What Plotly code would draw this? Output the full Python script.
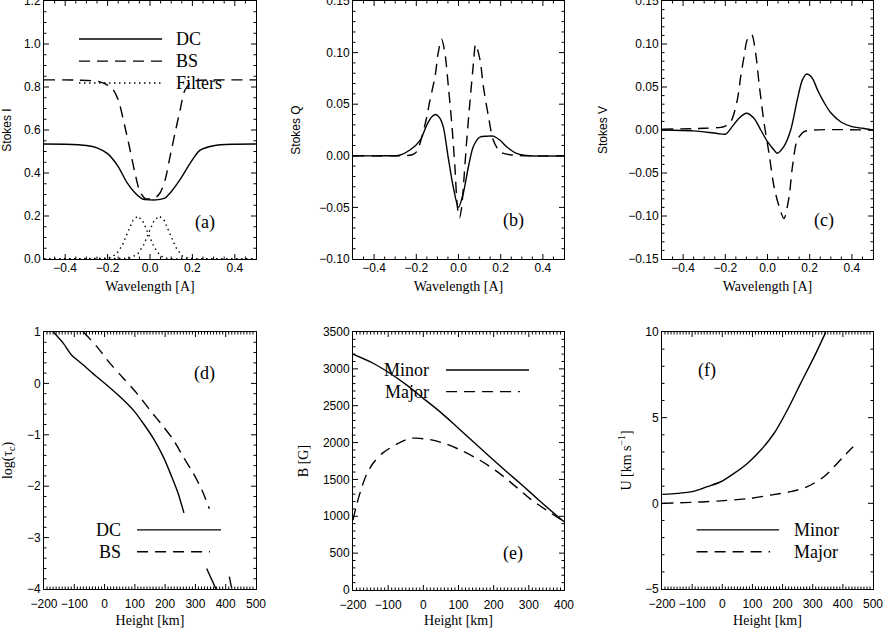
import plotly.graph_objects as go

# (a) Stokes I, wavelength in A
wl_dc_i = [-0.5, -0.4, -0.3, -0.25, -0.2, -0.15, -0.11, -0.07, -0.035, 0.0, 0.04, 0.07, 0.095, 0.14, 0.19, 0.235, 0.3, 0.4, 0.5]
dc_i = [0.535, 0.534, 0.528, 0.517, 0.49, 0.43, 0.358, 0.307, 0.279, 0.275, 0.276, 0.283, 0.307, 0.367, 0.446, 0.505, 0.527, 0.534, 0.535]
wl_bs_i = [-0.5, -0.35, -0.24, -0.18, -0.15, -0.118, -0.094, -0.071, -0.047, -0.02, 0.0, 0.025, 0.047, 0.071, 0.094, 0.118, 0.142, 0.165, 0.2, 0.25, 0.35, 0.5]
bs_i = [0.833, 0.832, 0.825, 0.795, 0.74, 0.614, 0.507, 0.40, 0.312, 0.28, 0.28, 0.285, 0.307, 0.367, 0.474, 0.586, 0.693, 0.786, 0.825, 0.832, 0.833, 0.833]
wl_filt1 = [-0.5, -0.2, -0.16, -0.13, -0.1, -0.08, -0.058, -0.035, -0.01, 0.02, 0.05, 0.08, 0.12, 0.5]
filt1 = [0, 0.003, 0.021, 0.065, 0.136, 0.18, 0.2, 0.179, 0.122, 0.054, 0.014, 0.003, 0, 0]
wl_filt2 = [-0.5, -0.1, -0.06, -0.03, 0.0, 0.02, 0.044, 0.067, 0.092, 0.122, 0.152, 0.182, 0.22, 0.5]
filt2 = [0, 0.003, 0.021, 0.065, 0.136, 0.18, 0.2, 0.179, 0.122, 0.054, 0.014, 0.003, 0, 0]

# (b) Stokes Q
wl_dc_q = [-0.5, -0.35, -0.28, -0.23, -0.182, -0.15, -0.125, -0.108, -0.09, -0.072, -0.05, -0.025, 0.0, 0.023, 0.047, 0.07, 0.1, 0.135, 0.165, 0.197, 0.228, 0.275, 0.34, 0.5]
dc_q = [0, 0, 0.0005, 0.0056, 0.015, 0.030, 0.038, 0.040, 0.037, 0.028, 0.0, -0.030, -0.05, -0.036, -0.0106, 0.0088, 0.018, 0.019, 0.019, 0.015, 0.0088, 0.0024, 0.0, 0]
wl_bs_q = [-0.5, -0.3, -0.22, -0.198, -0.159, -0.135, -0.111, -0.096, -0.08, -0.064, -0.048, -0.032, -0.017, -0.005, 0.005, 0.015, 0.023, 0.039, 0.055, 0.071, 0.081, 0.102, 0.118, 0.142, 0.165, 0.197, 0.245, 0.5]
bs_q = [0, 0, 0.001, 0.004, 0.030, 0.054, 0.077, 0.10, 0.113, 0.099, 0.067, 0.0315, -0.0106, -0.05, -0.06, -0.05, -0.03, 0.015, 0.054, 0.09, 0.108, 0.093, 0.067, 0.038, 0.015, 0.004, 0.001, 0]

# (c) Stokes V
wl_dc_v = [-0.5, -0.35, -0.238, -0.198, -0.167, -0.135, -0.1, -0.064, -0.032, 0.0, 0.031, 0.045, 0.078, 0.11, 0.141, 0.165, 0.185, 0.21, 0.24, 0.268, 0.3, 0.35, 0.4, 0.45, 0.5]
dc_v = [0.0, -0.001, -0.004, -0.0047, 0.004, 0.0136, 0.0194, 0.0136, 0.0, -0.0136, -0.0233, -0.027, -0.019, 0.0, 0.035, 0.058, 0.065, 0.061, 0.045, 0.032, 0.02, 0.009, 0.004, 0.002, 0.0]
wl_bs_v = [-0.5, -0.3, -0.206, -0.174, -0.143, -0.127, -0.111, -0.096, -0.075, -0.056, -0.04, -0.016, 0.007, 0.031, 0.055, 0.078, 0.102, 0.118, 0.141, 0.173, 0.22, 0.5]
bs_v = [0.001, 0.002, 0.004, 0.0097, 0.035, 0.062, 0.0855, 0.105, 0.111, 0.089, 0.054, 0.0078, -0.027, -0.066, -0.089, -0.103, -0.078, -0.043, -0.0116, -0.002, 0.0, 0.0]

# (d) log(tau_c) vs height [km]; gaps are where the legend hides the curves
h_dc_tau = [-169, -136, -109, -70, -26, 7, 51, 95, 128, 161, 194, 222, 243, 262, None, 337, 368]
dc_tau = [1.0, 0.78, 0.553, 0.358, 0.13, -0.03, -0.26, -0.52, -0.78, -1.07, -1.43, -1.82, -2.14, -2.52, None, -3.6, -4.0]
h_bs_tau = [-70, -26, 18, 62, 106, 150, 194, 227, 260, 293, 321, 346, None, 412, 420]
bs_tau = [1.0, 0.72, 0.39, 0.10, -0.19, -0.52, -0.84, -1.1, -1.43, -1.75, -2.07, -2.44, None, -3.76, -4.0]

# (e) B [G]
h_minor_b = [-200, -143, -95, -48, 0, 47, 95, 142, 189, 237, 284, 332, 379, 400]
minor_b = [3198, 3076, 2940, 2782, 2600, 2420, 2216, 2012, 1809, 1605, 1410, 1205, 1010, 927]
h_major_b = [-200, -190, -176, -162, -143, -115, -77, -40, -20, 19, 66, 114, 161, 209, 256, 303, 351, 400]
major_b = [950, 1150, 1380, 1560, 1720, 1860, 1975, 2055, 2060, 2040, 1980, 1880, 1760, 1610, 1430, 1240, 1080, 930]

# (f) U [km/s]
h_minor_u = [-199, -149, -99, -50, -5, 39, 83, 128, 172, 216, 260, 305, 343]
minor_u = [0.52, 0.58, 0.68, 0.97, 1.26, 1.75, 2.33, 3.11, 4.09, 5.45, 7.0, 8.56, 9.98]
h_major_u = [-199, -127, -17, 94, 160, 227, 282, 337, 381, 409, 434]
major_u = [0.0, 0.04, 0.13, 0.29, 0.48, 0.68, 0.97, 1.55, 2.33, 2.85, 3.3]

W, H = 884, 628
SERIF = "Liberation Serif"
SANS = "Liberation Sans"
DASH = "11px,7px"
DOT = "1.5px,3.5px"


def xdom(l, r):
    return [l / W, r / W]


def ydom(t, b):
    return [1 - b / H, 1 - t / H]


def axis(dom, rng, dtick, fmt, title, tfont, standoff, anchor, lab_off=0):
    # tick marks are drawn as a trace below (IDL-style, inside, on all four sides)
    return dict(domain=dom, range=rng, dtick=dtick, tick0=0, tickformat=fmt, ticks="",
                showline=True, linecolor="black", linewidth=1, mirror=True,
                showgrid=False, zeroline=False, anchor=anchor, automargin=False,
                ticklabeloverflow="allow", ticklabelstandoff=lab_off,
                tickfont=dict(family=SANS, size=12, color="black"),
                title=dict(text=title, font=tfont, standoff=standoff))


tf_serif = dict(family=SERIF, size=14, color="black")
tf_sans = dict(family=SANS, size=12, color="black")

fig = go.Figure()


def line(x, y, n, dash=None, shape="spline", width=1.4):
    fig.add_trace(go.Scatter(x=x, y=y, mode="lines", showlegend=False, connectgaps=False,
                             hoverinfo="skip",
                             line=dict(color="black", width=width, dash=dash, shape=shape, smoothing=0.8),
                             xaxis="x" + n, yaxis="y" + n))


line(wl_dc_i, dc_i, "")
line(wl_bs_i, bs_i, "", DASH)
line(wl_filt1, filt1, "", DOT, "linear")
line(wl_filt2, filt2, "", DOT, "linear")
line(wl_dc_q, dc_q, "2")
line(wl_bs_q, bs_q, "2", DASH)
line(wl_dc_v, dc_v, "3")
line(wl_bs_v, bs_v, "3", DASH)
line(h_dc_tau, dc_tau, "4")
line(h_bs_tau, bs_tau, "4", DASH)
line(h_minor_b, minor_b, "5")
line(h_major_b, major_b, "5", DASH)
line(h_minor_u, minor_u, "6")
line(h_major_u, major_u, "6", DASH)

top, bot, bot_e = ydom(1, 259), ydom(332, 589), ydom(332, 590)
xa, xb, xc = xdom(44, 256), xdom(353, 564), xdom(662, 873)
fig.update_layout(
    template="none",
    xaxis=axis(xa, [-0.5, 0.5], 0.2, ".1f", "Wavelength [A]", tf_serif, 6, "y", -2),
    yaxis=axis(top, [0, 1.2], 0.2, ".1f", "Stokes I", tf_sans, 12, "x"),
    xaxis2=axis(xb, [-0.5, 0.5], 0.2, ".1f", "Wavelength [A]", tf_serif, 6, "y2", -2),
    yaxis2=axis(top, [-0.1, 0.15], 0.05, ".2f", "Stokes Q", tf_sans, 16, "x2"),
    xaxis3=axis(xc, [-0.5, 0.5], 0.2, ".1f", "Wavelength [A]", tf_serif, 6, "y3", -2),
    yaxis3=axis(top, [-0.15, 0.15], 0.05, ".2f", "Stokes V", tf_sans, 18, "x3"),
    xaxis4=axis(xa, [-200, 500], 100, "d", "Height [km]", tf_serif, 8, "y4", 4),
    yaxis4=axis(bot, [-4, 1], 1, "d", "log(τ<sub>c</sub>)", tf_serif, 14, "x4"),
    xaxis5=axis(xb, [-200, 400], 100, "d", "Height [km]", tf_serif, 8, "y5", 4),
    yaxis5=axis(bot_e, [0, 3500], 500, "d", "B [G]", tf_serif, 10, "x5"),
    xaxis6=axis(xc, [-200, 500], 100, "d", "Height [km]", tf_serif, 8, "y6", 4),
    yaxis6=axis(bot, [-5, 10], 5, "d", "U [km s<sup>−1</sup>]", tf_serif, 10, "x6"),
    width=W, height=H, margin=dict(l=0, r=0, t=0, b=0),
    paper_bgcolor="white", plot_bgcolor="white",
)

# inside tick marks: (x domain, y domain, x range, x major, x minor, y range, y major, y minor)
tick_specs = {
    "": (xa, top, (-0.5, 0.5), 0.2, 0.05, (0, 1.2), 0.2, 0.05),
    "2": (xb, top, (-0.5, 0.5), 0.2, 0.05, (-0.1, 0.15), 0.05, 0.01),
    "3": (xc, top, (-0.5, 0.5), 0.2, 0.05, (-0.15, 0.15), 0.05, 0.01),
    "4": (xa, bot, (-200, 500), 100, 10, (-4, 1), 1, 0.2),
    "5": (xb, bot_e, (-200, 400), 100, 10, (0, 3500), 500, 100),
    "6": (xc, bot, (-200, 500), 100, 10, (-5, 10), 5, 1),
}
MAJ, MIN = 5, 2.5


def tick_values(rng, major, minor):
    n = int(round((rng[1] - rng[0]) / minor))
    out = []
    for i in range(1, n):
        v = rng[0] + i * minor
        k = v / major
        out.append((v, MAJ if abs(k - round(k)) < 1e-6 else MIN))
    return out


for n, (xd, yd, xr, xmaj, xmin, yr, ymaj, ymin) in tick_specs.items():
    w_px = (xd[1] - xd[0]) * W
    h_px = (yd[1] - yd[0]) * H
    xspan, yspan = xr[1] - xr[0], yr[1] - yr[0]
    tx, ty = [], []
    for v, ln in tick_values(xr, xmaj, xmin):
        d = ln / h_px * yspan
        tx += [v, v, None, v, v, None]
        ty += [yr[0], yr[0] + d, None, yr[1], yr[1] - d, None]
    for v, ln in tick_values(yr, ymaj, ymin):
        d = ln / w_px * xspan
        tx += [xr[0], xr[0] + d, None, xr[1], xr[1] - d, None]
        ty += [v, v, None, v, v, None]
    line(tx, ty, n, shape="linear", width=1)

lab_font = dict(family=SERIF, size=18, color="black")


def text(n, x, y, s, xanchor="center"):
    fig.add_annotation(xref="x" + n + " domain", yref="y" + n + " domain", x=x, y=y, text=s,
                       showarrow=False, xanchor=xanchor, yanchor="middle", font=lab_font)


def sample(n, x0, x1, y, dash=None):
    fig.add_shape(type="line", xref="x" + n + " domain", yref="y" + n + " domain",
                  x0=x0, x1=x1, y0=y, y1=y, line=dict(color="black", width=1.4, dash=dash))


# panel labels
text("", 0.759, 0.143, "(a)")
text("2", 0.76, 0.148, "(b)")
text("3", 0.768, 0.151, "(c)")
text("4", 0.759, 0.84, "(d)")
text("5", 0.76, 0.142, "(e)")
text("6", 0.215, 0.852, "(f)")

# legends
for y, s, d in [(0.853, "DC", None), (0.767, "BS", DASH), (0.682, "Filters", DOT)]:
    sample("", 0.165, 0.557, y, d)
    text("", 0.615, y, s, "left")
for y, s, d, x1 in [(0.23, "DC", None, 0.835), (0.145, "BS", DASH, 0.783)]:
    sample("4", 0.439, x1, y, d)
    text("4", 0.372, y, s, "right")
for y, s, d, x1 in [(0.853, "Minor", None, 0.834), (0.769, "Major", DASH, 0.791)]:
    sample("5", 0.441, x1, y, d)
    text("5", 0.37, y, s, "right")
for y, s, d, x1 in [(0.23, "Minor", None, 0.555), (0.145, "Major", DASH, 0.512)]:
    sample("6", 0.164, x1, y, d)
    text("6", 0.615, y, s, "left")

# drop the default 8px page margin so the figure sits at the window corner
fig.write_html("out.html", config={"displayModeBar": False},
               post_script="document.body.style.margin='0';")
